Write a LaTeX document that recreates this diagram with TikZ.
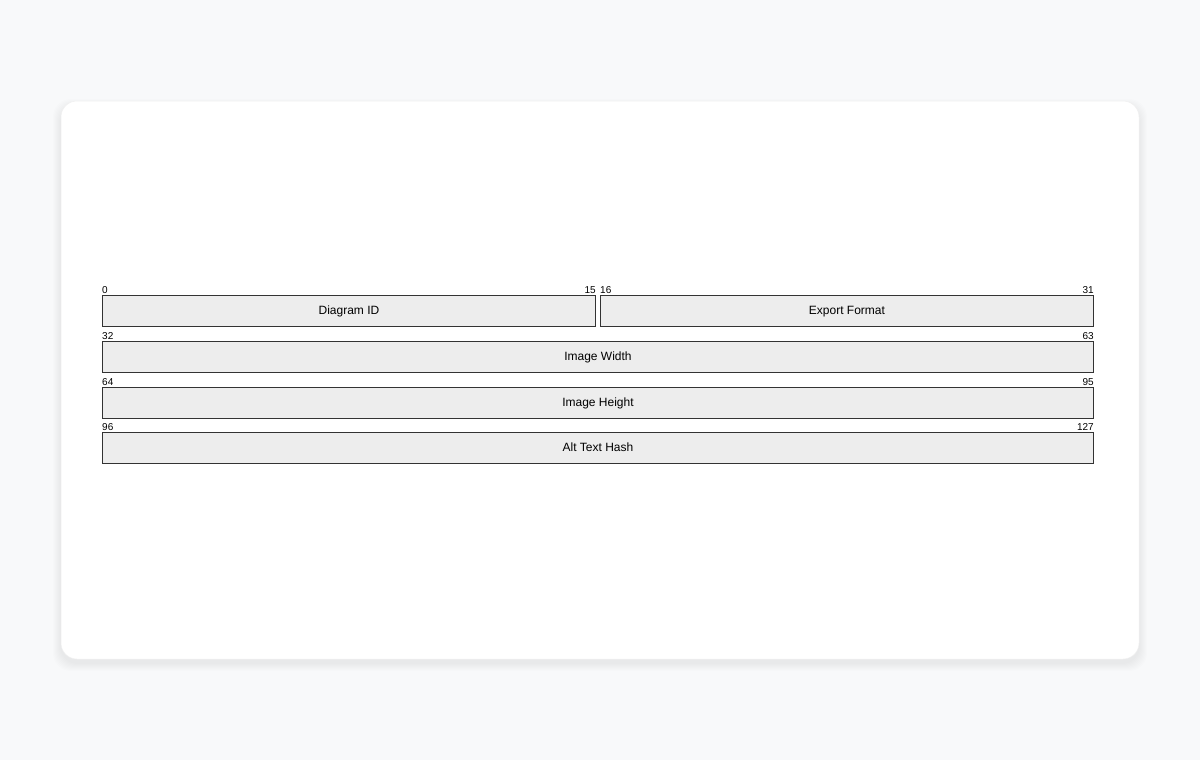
\documentclass[tikz,border=0pt]{standalone}
\usepackage{fontspec}
\setmainfont{Liberation Sans}
\begin{document}
\begin{tikzpicture}[x=1pt,y=-1pt,
  field/.style={draw=black!80,line width=0.9pt,fill=black!7,inner sep=0pt,text height=8.6pt,text depth=2.5pt,font=\fontsize{12}{14}\selectfont},
  bitlab/.style={font=\fontsize{10}{11}\selectfont,inner sep=0pt}]
\definecolor{pagebg}{HTML}{F8F9FA}
\useasboundingbox (0,0) rectangle (1200,760);
\fill[pagebg] (0,0) rectangle (1200,760);
% shadow
\foreach \i in {1,...,8}{
  \fill[black,opacity=0.006,rounded corners=18pt] (61-\i,103-\i+4) rectangle (1139+\i,659+\i+4);
}
\fill[white,draw=black!6,line width=0.5pt,rounded corners=16pt] (61,101) rectangle (1139,659);
% fields
\node[field,minimum width=493pt,minimum height=31pt,anchor=north west] (f1) at (102,295) {Diagram ID};
\node[field,minimum width=493pt,minimum height=31pt,anchor=north west] (f2) at (600,295) {Export Format};
\node[field,minimum width=991pt,minimum height=31pt,anchor=north west] (f3) at (102,341) {Image Width};
\node[field,minimum width=991pt,minimum height=31pt,anchor=north west] (f4) at (102,387) {Image Height};
\node[field,minimum width=991pt,minimum height=31pt,anchor=north west] (f5) at (102,432) {Alt Text Hash};
% bit labels
\node[bitlab,anchor=base west] (b0) at ([yshift=1.5pt]f1.north west) {0};
\node[bitlab,anchor=base east] (b15) at ([yshift=1.5pt]f1.north east) {15};
\node[bitlab,anchor=base west] (b16) at ([yshift=1.5pt]f2.north west) {16};
\node[bitlab,anchor=base east] (b31) at ([yshift=1.5pt]f2.north east) {31};
\node[bitlab,anchor=base west] (b32) at ([yshift=1.5pt]f3.north west) {32};
\node[bitlab,anchor=base east] (b63) at ([yshift=1.5pt]f3.north east) {63};
\node[bitlab,anchor=base west] (b64) at ([yshift=1.5pt]f4.north west) {64};
\node[bitlab,anchor=base east] (b95) at ([yshift=1.5pt]f4.north east) {95};
\node[bitlab,anchor=base west] (b96) at ([yshift=1.5pt]f5.north west) {96};
\node[bitlab,anchor=base east] (b127) at ([yshift=1.5pt]f5.north east) {127};
\end{tikzpicture}
\end{document}
